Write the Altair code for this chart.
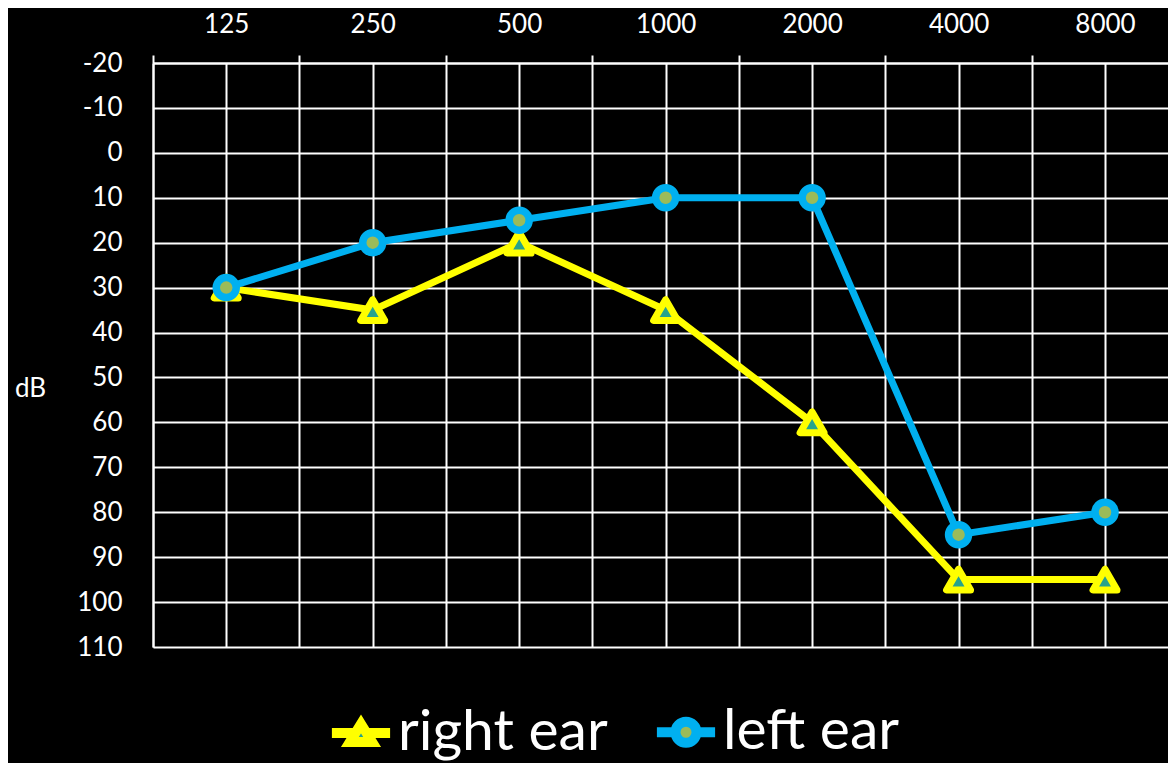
import altair as alt
import pandas as pd

freqs = ["125", "250", "500", "1000", "2000", "4000", "8000"]
right_ear = [30, 35, 20, 35, 60, 95, 95]
left_ear = [30, 20, 15, 10, 10, 85, 80]
series = ["right ear", "left ear"]
y_ticks = list(range(-20, 111, 10))

rows = []
for i, f in enumerate(freqs):
    rows.append({"idx": i, "freq": f, "ear": series[0], "db": right_ear[i]})
for i, f in enumerate(freqs):
    rows.append({"idx": i, "freq": f, "ear": series[1], "db": left_ear[i]})
df = pd.DataFrame(rows)

YELLOW = "#FFFF00"
BLUE = "#00B0F0"
TEAL = "#27A38C"
OLIVE = "#9BBB59"
FONT = "Lato"

label_expr = "datum.value % 1 === 0 ? " + str(freqs) + "[datum.value] : ''"

x = alt.X(
    "idx:Q",
    scale=alt.Scale(domain=[-0.5, 6.43], nice=False, zero=False),
    axis=alt.Axis(
        orient="top",
        values=[-0.5 + 0.5 * k for k in range(14)],
        labelExpr=label_expr,
        grid=True, gridColor="white", gridWidth=2,
        domainColor="white", domainWidth=2,
        tickColor="white", tickWidth=2, tickSize=8,
        tickOpacity={"condition": {"test": "datum.value % 1 !== 0", "value": 1}, "value": 0},
        labelColor="white", labelFontSize=26, labelFont=FONT, labelPadding=18,
        labelFlush=False, labelOverlap=False, title=None,
    ),
)
y = alt.Y(
    "db:Q",
    scale=alt.Scale(domain=[-20, 110], reverse=True, nice=False, zero=False),
    axis=alt.Axis(
        values=y_ticks,
        labelExpr="toString(datum.value)",
        grid=True, gridColor="white", gridWidth=2,
        domainColor="white", domainWidth=2,
        ticks=False,
        labelColor="white", labelFontSize=26, labelFont=FONT, labelPadding=31,
        title="dB", titleColor="white", titleFontSize=26, titleFont=FONT,
        titleFontWeight="normal", titleAngle=0, titleX=-123, titleY=325,
        titleAlign="center", titleBaseline="middle",
    ),
)

tri_path = "M-0.97,0L-0.19,0M0.19,0L0.97,0M0,-0.3L0.37,0.3L-0.37,0.3Z"
circ_path = ("M-0.97,0L-0.35,0M0.35,0L0.97,0"
             "M-0.35,0A0.35,0.35,0,1,0,0.35,0A0.35,0.35,0,1,0,-0.35,0Z")

leg = alt.Legend(
    title=None, orient="none", legendX=173, legendY=634, direction="horizontal",
    symbolSize=3600, symbolStrokeWidth=10, symbolOpacity=1,
    labelFontSize=57, labelFont=FONT, labelColor="white", labelOffset=2,
    columnPadding=28, labelLimit=0, padding=0,
)

base = alt.Chart(df)

legend_layer = base.mark_point(filled=True, strokeWidth=10).encode(
    x=x, y=y,
    fill=alt.Fill("ear:N", scale=alt.Scale(domain=series, range=[TEAL, OLIVE]), legend=leg),
    stroke=alt.Stroke("ear:N", scale=alt.Scale(domain=series, range=[YELLOW, BLUE]), legend=leg),
    shape=alt.Shape("ear:N", scale=alt.Scale(domain=series, range=[tri_path, circ_path]), legend=leg),
    opacity=alt.value(0),
)

right = base.transform_filter("datum.ear === 'right ear'")
left = base.transform_filter("datum.ear === 'left ear'")

line_r = right.mark_line(color=YELLOW, strokeWidth=7).encode(x=x, y=y)
pts_r = right.mark_point(
    shape="triangle-up", size=576, filled=True, fill=TEAL, stroke=YELLOW,
    strokeWidth=7, strokeJoin="round", opacity=1,
).encode(x=x, y=y)
line_l = left.mark_line(color=BLUE, strokeWidth=7).encode(x=x, y=y)
pts_l = left.mark_point(
    shape="circle", size=400, filled=True, fill=OLIVE, stroke=BLUE,
    strokeWidth=7.5, opacity=1,
).encode(x=x, y=y)

chart = alt.layer(legend_layer, line_r, pts_r, line_l, pts_l).properties(
    width=1015, height=584,
    autosize=alt.AutoSizeParams(type="none"),
    padding={"left": 145, "top": 55, "right": 0, "bottom": 116},
    background="black",
).configure_view(stroke=None)

chart.save("out.html", embed_options={"renderer": "svg", "actions": False})
